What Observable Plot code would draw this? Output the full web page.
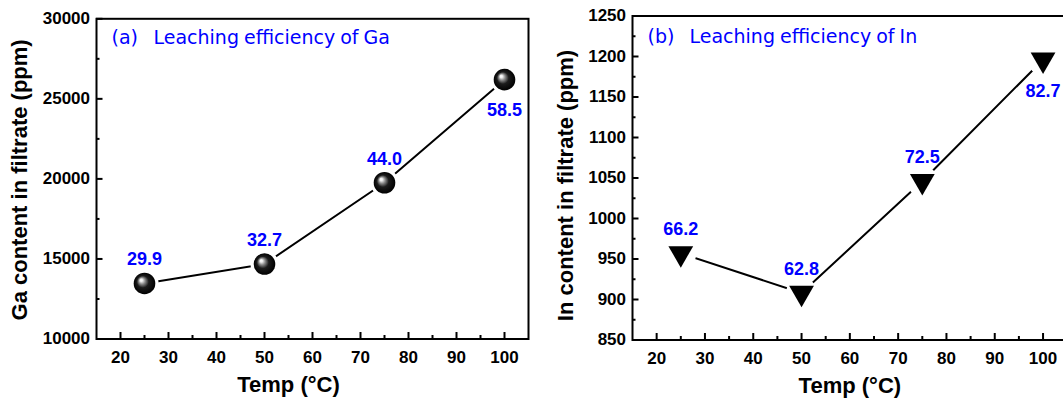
<!DOCTYPE html>
<html>
<head>
<meta charset="utf-8">
<script src="https://cdn.jsdelivr.net/npm/d3@7"></script>
<script src="https://cdn.jsdelivr.net/npm/@observablehq/plot@0.6"></script>
<style>
  html, body { margin: 0; padding: 0; background: #fff; overflow: hidden; }
  #wrap { display: flex; width: 1063px; height: 398px; overflow: hidden; }
  #wrap > svg { flex: none; }
</style>
</head>
<body>
<div id="wrap"></div>
<script>
// ---- data ----
const tempC = [25, 50, 75, 100];
const gaPpm = [13470, 14680, 19760, 26200];
const gaEff = ["29.9", "32.7", "44.0", "58.5"];
const inPpm = [957, 908, 1046, 1196];
const inEff = ["66.2", "62.8", "72.5", "82.7"];
const labelSide = ["above", "above", "above", "below"];
const xTicks = [20, 30, 40, 50, 60, 70, 80, 90, 100];
const gaTicks = [10000, 15000, 20000, 25000, 30000];
const inTicks = [850, 900, 950, 1000, 1050, 1100, 1150, 1200, 1250];

const mids = (t) => t.slice(1).map((v, i) => (v + t[i]) / 2);

const gaRows = tempC.map((t, i) => ({t, v: gaPpm[i], e: gaEff[i], side: labelSide[i]}));
const inRows = tempC.map((t, i) => ({t, v: inPpm[i], e: inEff[i], side: labelSide[i]}));

const BOLD = "'Liberation Sans', Arial, sans-serif";
const BLUE = "#0000ff";

const downTriangle = {
  draw(ctx, size) {
    const y = -Math.sqrt(size / (3 * Math.sqrt(3)));
    ctx.moveTo(0, -2 * y);
    ctx.lineTo(Math.sqrt(3) * y, y);
    ctx.lineTo(-Math.sqrt(3) * y, y);
    ctx.closePath();
  }
};

function panel(cfg) {
  const H = 398;
  const innerW = cfg.width - cfg.ml - cfg.mr;
  const innerH = H - cfg.mt - cfg.mb;
  const svg = Plot.plot({
    width: cfg.width,
    height: H,
    marginLeft: cfg.ml,
    marginRight: cfg.mr,
    marginTop: cfg.mt,
    marginBottom: cfg.mb,
    style: {fontFamily: BOLD, background: "white", color: "black", maxWidth: "none"},
    x: {domain: [15, 105], label: null},
    y: {domain: cfg.yDomain, label: null},
    marks: [
      // ticks (inward)
      Plot.ruleX(xTicks, {x: d => d, insetTop: innerH - 6.5, stroke: "black", strokeWidth: 2}),
      Plot.ruleX(mids(xTicks), {x: d => d, insetTop: innerH - 3.5, stroke: "black", strokeWidth: 2}),
      Plot.ruleY(cfg.yTicks, {y: d => d, insetRight: innerW - 6.5, stroke: "black", strokeWidth: 2}),
      Plot.ruleY(mids(cfg.yTicks), {y: d => d, insetRight: innerW - 3.5, stroke: "black", strokeWidth: 2}),
      Plot.axisX({ticks: xTicks, tickSize: 0, tickPadding: 11.5, fontSize: 17, fontWeight: "bold", tickFormat: d => String(d), label: null}),
      Plot.axisY({ticks: cfg.yTicks, tickSize: 0, tickPadding: 6.5, fontSize: 17, fontWeight: "bold", tickFormat: d => String(d), label: null}),
      // series
      Plot.line(cfg.rows, {x: "t", y: "v", stroke: "black", strokeWidth: 2}),
      Plot.dot(cfg.rows, {x: "t", y: "v", r: cfg.halo, fill: "white"}),
      cfg.marker(cfg.rows),
      Plot.text(cfg.rows.filter(d => d.side === "above"), {x: "t", y: "v", text: "e", dy: -24, fill: BLUE, fontSize: 18, fontWeight: "bold"}),
      Plot.text(cfg.rows.filter(d => d.side === "below"), {x: "t", y: "v", text: "e", dy: 31, fill: BLUE, fontSize: 18, fontWeight: "bold"}),
      Plot.frame({stroke: "black", strokeWidth: 2}),
      // panel title
      Plot.text([cfg.tag], {frameAnchor: "top-left", dx: 15, dy: cfg.titleDy, lineAnchor: "bottom", textAnchor: "start", fill: BLUE, fontSize: 19, fontFamily: "'DejaVu Sans'"}),
      Plot.text([cfg.title], {frameAnchor: "top-left", dx: 57, dy: cfg.titleDy, lineAnchor: "bottom", textAnchor: "start", fill: BLUE, fontSize: 19, fontFamily: "'DejaVu Sans'"}),
      // axis titles
      Plot.text([cfg.yLabel], {frameAnchor: "left", dx: cfg.yTitleDx, dy: cfg.yTitleDy, rotate: -90, textAnchor: "middle", lineAnchor: "middle", fontSize: 22, fontWeight: "bold"}),
      Plot.text(["Temp (°C)"], {frameAnchor: "bottom", dx: cfg.xTitleDx, dy: 53, textAnchor: "middle", lineAnchor: "bottom", fontSize: 22, fontWeight: "bold"})
    ]
  });
  const s = d3.select(svg);
  const grad = s.insert("defs", ":first-child").append("radialGradient")
    .attr("id", "sphere").attr("cx", "0.5").attr("cy", "0.5").attr("r", "0.5")
    .attr("fx", "0.33").attr("fy", "0.33");
  [[0, "#ffffff"], [0.12, "#eeeeee"], [0.3, "#8a8a8a"], [0.55, "#1c1c1c"], [1, "#000000"]]
    .forEach(([o, c]) => grad.append("stop").attr("offset", o).attr("stop-color", c));
  s.selectAll("text").filter(function () { return this.textContent.startsWith("Leaching"); })
    .attr("word-spacing", "-1px");
  return svg;
}

const left = panel({
  rows: gaRows, yDomain: [10000, 30000], yTicks: gaTicks,
  tag: "(a)", title: "Leaching efficiency of Ga",
  yLabel: "Ga content in filtrate (ppm)",
  width: 530, ml: 96, mr: 2, mt: 18.3, mb: 59.5,
  yTitleDx: -76.5, yTitleDy: 1, xTitleDx: -24, titleDy: 25, halo: 14,
  marker: rows => Plot.dot(rows, {x: "t", y: "v", r: 10.8, fill: "url(#sphere)"})
});

const right = panel({
  rows: inRows, yDomain: [850, 1250], yTicks: inTicks,
  tag: "(b)", title: "Leaching efficiency of In",
  yLabel: "In content in filtrate (ppm)",
  width: 540, ml: 102, mr: 3.3, mt: 15.5, mb: 58.5,
  yTitleDx: -66.3, yTitleDy: 7.5, xTitleDx: 0, titleDy: 27.2, halo: 15.5,
  marker: rows => Plot.dot(rows, {x: "t", y: "v", r: 9.2, symbol: downTriangle, fill: "black", stroke: "none"})
});

document.getElementById("wrap").append(left, right);
</script>
</body>
</html>
